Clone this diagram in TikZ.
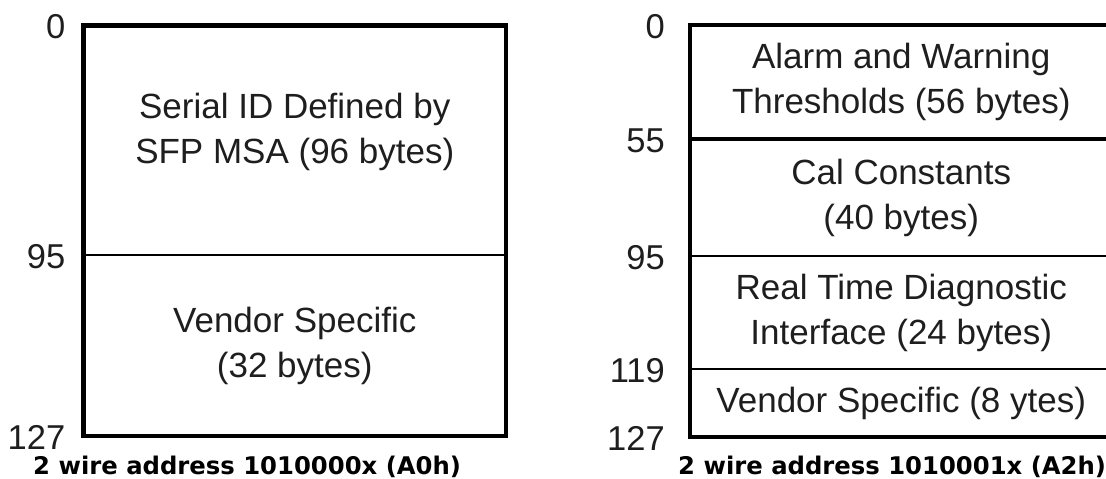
\documentclass[tikz,border=0pt]{standalone}
\usepackage{fontspec}
\setmainfont{Liberation Sans}
\newfontfamily\capfont{DejaVu Sans}
\usetikzlibrary{positioning}

\definecolor{inkgray}{HTML}{1E1E1E}

\tikzset{
  cell/.style={draw, line width=2.6pt, outer sep=0pt, inner sep=0pt, minimum width=422.5pt, align=center, text=inkgray, font=\fontsize{35}{45}\selectfont},
  frame/.style={line width=4.5pt},
  num/.style={inner sep=0pt, yshift=-1.5pt, text=inkgray, font=\fontsize{34.5}{40}\selectfont},
  caption/.style={inner sep=0pt, anchor=base west, font=\capfont\bfseries\fontsize{24.3}{28}\selectfont}
}

\begin{document}
\begin{tikzpicture}[x=1pt, y=-1pt]
  \useasboundingbox (0,0) rectangle (1106,479);

  % memory map at A0h
  \node[cell, anchor=north west, minimum height=229.5pt, text depth=23pt] (serial) at (83.5,25.5) {Serial ID Defined by\\SFP MSA (96 bytes)};
  \node[cell, below=0pt of serial, minimum height=181pt] (vendA) {Vendor Specific\\(32 bytes)};
  \draw[frame] (serial.north west) rectangle (vendA.south east);

  \node[num, left=18pt of serial.north west] (a0) {0};
  \node[num, left=18pt of serial.south west] (a95) {95};
  \node[num, left=18pt of vendA.south west] (a127) {127};

  % memory map at A2h
  \node[cell, anchor=north west, minimum height=114pt] (alarm) at (690,25) {Alarm and Warning\\Thresholds (56 bytes)};
  \node[cell, below=0pt of alarm, minimum height=117pt] (cal) {Cal Constants\\(40 bytes)};
  \node[cell, below=0pt of cal, minimum height=113pt] (rtd) {Real Time Diagnostic\\Interface (24 bytes)};
  \node[cell, below=0pt of rtd, minimum height=68pt] (vendB) {Vendor Specific (8 ytes)};
  \draw[frame] (alarm.north west) rectangle (vendB.south east);
  \draw[frame] (alarm.south west) -- (alarm.south east);

  \node[num, left=25pt of alarm.north west] (b0) {0};
  \node[num, left=25pt of alarm.south west] (b55) {55};
  \node[num, left=25pt of cal.south west] (b95) {95};
  \node[num, left=25pt of rtd.south west] (b119) {119};
  \node[num, left=25pt of vendB.south west] (b127) {127};

  % addresses
  \node[caption] (capA) at (33,474) {2 wire address 1010000x (A0h)};
  \node[caption] (capB) at (678,474) {2 wire address 1010001x (A2h)};
\end{tikzpicture}
\end{document}
